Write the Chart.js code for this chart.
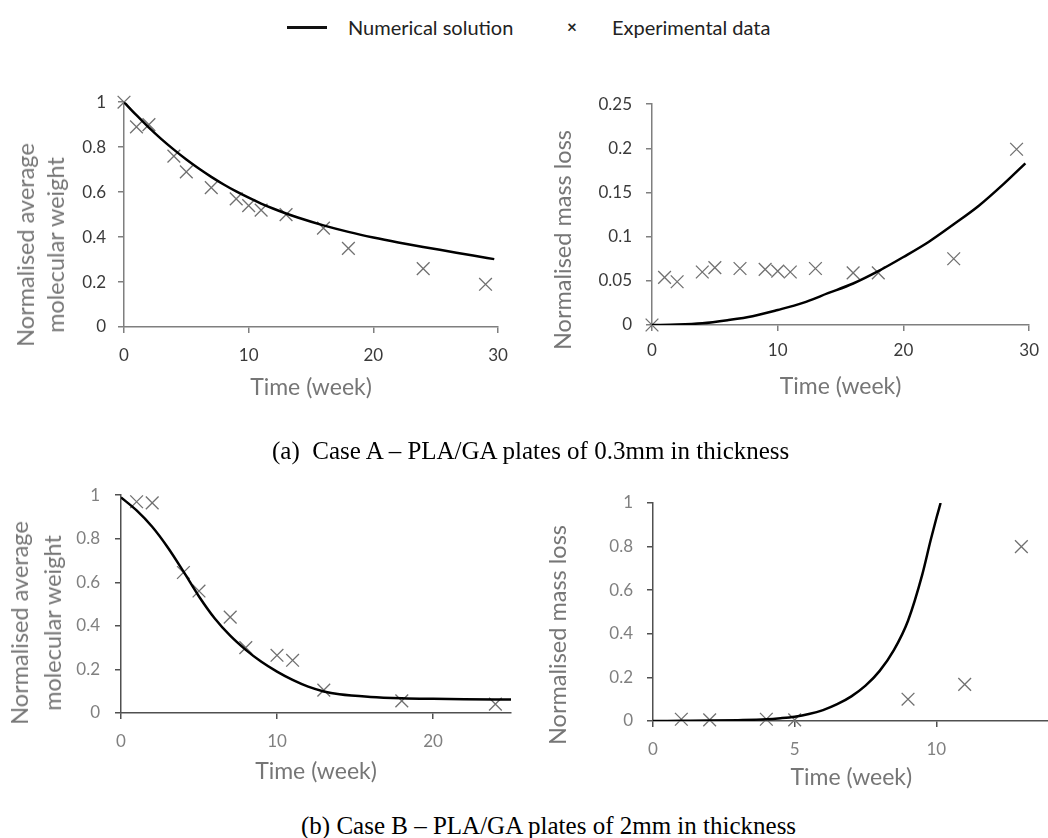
<!DOCTYPE html>
<html>
<head>
<meta charset="utf-8">
<title>PLA/GA degradation</title>
<script src="https://cdn.jsdelivr.net/npm/chart.js@4.4.1/dist/chart.umd.min.js"></script>
<style>
    html, body {
        margin: 0;
        padding: 0;
        width: 1048px;
        height: 838px;
        overflow: hidden;
        background: #fff;
    }
    canvas, .legend-item, .ytitle, .caption {
        position: absolute;
    }
    .legend-item {
        font-family: Lato, "Open Sans", sans-serif;
        font-size: 20px;
        color: #222;
        line-height: 24px;
        top: 15px;
    }
    .swatch {
        position: absolute;
        left: 287px;
        top: 26px;
        width: 40px;
        height: 2.5px;
        background: #111;
    }
    .ytitle {
        font-family: Lato, "Open Sans", sans-serif;
        font-size: 23.5px;
        color: #767676;
        white-space: nowrap;
        text-align: center;
        transform: translate(-50%, -50%) rotate(-90deg);
    }
    .caption {
        font-family: "Liberation Serif", "Times New Roman", serif;
        font-size: 25px;
        line-height: 30px;
        color: #000;
        white-space: pre;
    }
</style>
</head>
<body>
<span class="swatch"></span>
<span class="legend-item" style="left: 348px">Numerical solution</span>
<span class="legend-item" style="left: 567px; font-weight: bold; font-size: 17px">×</span>
<span class="legend-item" style="left: 612px">Experimental data</span>

<canvas id="caseAWeight" width="520" height="340" style="left: 0; top: 80px"></canvas>
<canvas id="caseAMass" width="528" height="340" style="left: 520px; top: 80px"></canvas>
<canvas id="caseBWeight" width="530" height="330" style="left: 0; top: 470px"></canvas>
<canvas id="caseBMass" width="540" height="330" style="left: 520px; top: 470px"></canvas>

<div class="ytitle" style="left: 40px; top: 245px; line-height: 30px">Normalised average<br>molecular weight</div>
<div class="ytitle" style="left: 562px; top: 240px">Normalised mass loss</div>
<div class="ytitle" style="left: 36px; top: 623px; line-height: 33px">Normalised average<br>molecular weight</div>
<div class="ytitle" style="left: 557px; top: 635px">Normalised mass loss</div>

<div class="caption" style="left: 272px; top: 436px">(a)  Case A – PLA/GA plates of 0.3mm in thickness</div>
<div class="caption" style="left: 301px; top: 811px">(b) Case B – PLA/GA plates of 2mm in thickness</div>

<script>
const FONT = 'Lato, "Open Sans", sans-serif';

// Case A - 0.3 mm plates, experimental points (same sampling weeks for both panels)
const caseAWeeks = [0, 1, 2, 4, 5, 7, 9, 10, 11, 13, 16, 18, 24, 29];
const caseAWeightExp = [1.00, 0.89, 0.90, 0.76, 0.69, 0.62, 0.57, 0.54, 0.52, 0.50, 0.44, 0.35, 0.26, 0.19];
const caseAMassExp = [0, 0.054, 0.049, 0.060, 0.065, 0.064, 0.063, 0.061, 0.060, 0.064, 0.059, 0.059, 0.075, 0.199];

// Case A - numerical solution
const caseASimWeightWeeks = [0, 1, 2, 3, 4, 5, 6, 7, 8, 9, 10, 11, 12, 13, 14, 16, 18, 20, 22, 24, 26, 28, 29.7];
const caseASimWeight = [1.000, 0.942, 0.887, 0.836, 0.789, 0.745, 0.705, 0.668, 0.634, 0.603, 0.575, 0.549,
    0.526, 0.505, 0.486, 0.452, 0.423, 0.398, 0.376, 0.356, 0.337, 0.318, 0.302];
const caseASimMassWeeks = [0, 2, 4, 6, 8, 10, 12, 14, 16, 18, 20, 22, 24, 26, 28, 29.7];
const caseASimMass = [0, 0.0005, 0.002, 0.0055, 0.010, 0.017, 0.025, 0.036, 0.047, 0.061, 0.077, 0.094,
    0.114, 0.135, 0.160, 0.183];

// Case B - 2 mm plates, experimental points
const caseBWeightWeeks = [1, 2, 4, 5, 7, 8, 10, 11, 13, 18, 24];
const caseBWeightExp = [0.97, 0.965, 0.645, 0.56, 0.44, 0.30, 0.265, 0.242, 0.105, 0.056, 0.041];
const caseBMassWeeks = [1, 2, 4, 5, 9, 11, 13];
const caseBMassExp = [0.008, 0.005, 0.008, 0.005, 0.10, 0.168, 0.80];

// Case B - numerical solution
const caseBSimWeightWeeks = [0, 1, 2, 3, 4, 5, 6, 7, 8, 9, 10, 11, 12, 13, 14, 16, 18, 20, 22, 25];
const caseBSimWeight = [0.99, 0.93, 0.855, 0.76, 0.65, 0.535, 0.435, 0.355, 0.29, 0.235, 0.19, 0.152, 0.121,
    0.099, 0.086, 0.074, 0.068, 0.065, 0.063, 0.062];
const caseBSimMassWeeks = [0, 1, 2, 3, 4, 4.5, 5, 5.5, 6, 6.5, 7, 7.5, 8, 8.5, 9, 9.5, 9.8, 10, 10.15];
const caseBSimMass = [0, 0.001, 0.002, 0.004, 0.008, 0.013, 0.02, 0.032, 0.05, 0.077, 0.113, 0.162, 0.23,
    0.325, 0.46, 0.67, 0.83, 0.93, 1.0];

const toPoints = (xs, ys) => xs.map((x, i) => ({ x, y: ys[i] }));
const tickText = (v) => String(+v.toFixed(2));

/**
 * One Excel-like panel: black model curve, grey x markers, outside tick marks.
 *
 * @param {string} id canvas id
 * @param {object} p panel settings
 */
function buildPanel(id, p) {
    const axisLine = {
        border: { display: true, color: p.axisColor, width: 1.5 },
        grid: {
            display: true,
            drawOnChartArea: false,
            drawTicks: true,
            tickLength: 6,
            color: p.axisColor,
            lineWidth: 1.5,
        },
    };

    return new Chart(document.getElementById(id), {
        type: 'scatter',
        data: {
            datasets: [
                {
                    label: 'Numerical solution',
                    data: p.sim,
                    showLine: true,
                    borderColor: '#000',
                    borderWidth: 2.5,
                    pointRadius: 0,
                    cubicInterpolationMode: 'monotone',
                    fill: false,
                },
                {
                    label: 'Experimental data',
                    data: p.exp,
                    showLine: false,
                    pointStyle: 'crossRot',
                    pointRadius: 9,
                    pointBorderColor: '#707070',
                    pointBorderWidth: 1.3,
                    clip: false,
                },
            ],
        },
        options: {
            responsive: false,
            animation: false,
            devicePixelRatio: 1,
            layout: { padding: { top: p.padTop, right: p.padRight, left: 0, bottom: 0 } },
            plugins: {
                legend: { display: false },
                tooltip: { enabled: false },
            },
            scales: {
                x: {
                    type: 'linear',
                    min: 0,
                    max: p.xMax,
                    ...axisLine,
                    ticks: {
                        stepSize: p.xStep,
                        includeBounds: false,
                        color: p.tickColor,
                        padding: p.xTickPad,
                        maxRotation: 0,
                        font: { family: FONT, size: 17 },
                        callback: tickText,
                    },
                    title: {
                        display: true,
                        text: 'Time (week)',
                        color: '#767676',
                        font: { family: FONT, size: 23, lineHeight: 1.3 },
                        padding: { top: 0, bottom: p.xTitlePad },
                    },
                    afterFit: (scale) => { scale.height = p.xHeight; },
                },
                y: {
                    type: 'linear',
                    min: 0,
                    max: p.yMax,
                    ...axisLine,
                    ticks: {
                        stepSize: p.yStep,
                        color: p.tickColor,
                        padding: p.yTickPad,
                        font: { family: FONT, size: 17 },
                        callback: tickText,
                    },
                    afterFit: (scale) => { scale.width = p.yWidth; },
                },
            },
        },
    });
}

buildPanel('caseAWeight', {
    sim: toPoints(caseASimWeightWeeks, caseASimWeight),
    exp: toPoints(caseAWeeks, caseAWeightExp),
    xMax: 30, xStep: 10, yMax: 1, yStep: 0.2,
    yWidth: 124, xHeight: 93, padTop: 21, padRight: 22,
    tickColor: '#3a3a3a', axisColor: '#7f7f7f',
    yTickPad: 12, xTickPad: 12, xTitlePad: 17,
});

buildPanel('caseAMass', {
    sim: toPoints(caseASimMassWeeks, caseASimMass),
    exp: toPoints(caseAWeeks, caseAMassExp),
    xMax: 30, xStep: 10, yMax: 0.25, yStep: 0.05,
    yWidth: 132, xHeight: 95, padTop: 24, padRight: 12,
    tickColor: '#3a3a3a', axisColor: '#7f7f7f',
    yTickPad: 14, xTickPad: 9, xTitlePad: 18,
});

buildPanel('caseBWeight', {
    sim: toPoints(caseBSimWeightWeeks, caseBSimWeight),
    exp: toPoints(caseBWeightWeeks, caseBWeightExp),
    xMax: 25, xStep: 10, yMax: 1, yStep: 0.2,
    yWidth: 121, xHeight: 87, padTop: 24, padRight: 19,
    tickColor: '#808080', axisColor: '#505050',
    yTickPad: 15, xTickPad: 12, xTitlePad: 13,
});

buildPanel('caseBMass', {
    sim: toPoints(caseBSimMassWeeks, caseBSimMass),
    exp: toPoints(caseBMassWeeks, caseBMassExp),
    xMax: 14, xStep: 5, yMax: 1, yStep: 0.2,
    yWidth: 133, xHeight: 79, padTop: 33, padRight: 7,
    tickColor: '#808080', axisColor: '#505050',
    yTickPad: 14, xTickPad: 12, xTitlePad: 7,
});
</script>
</body>
</html>
